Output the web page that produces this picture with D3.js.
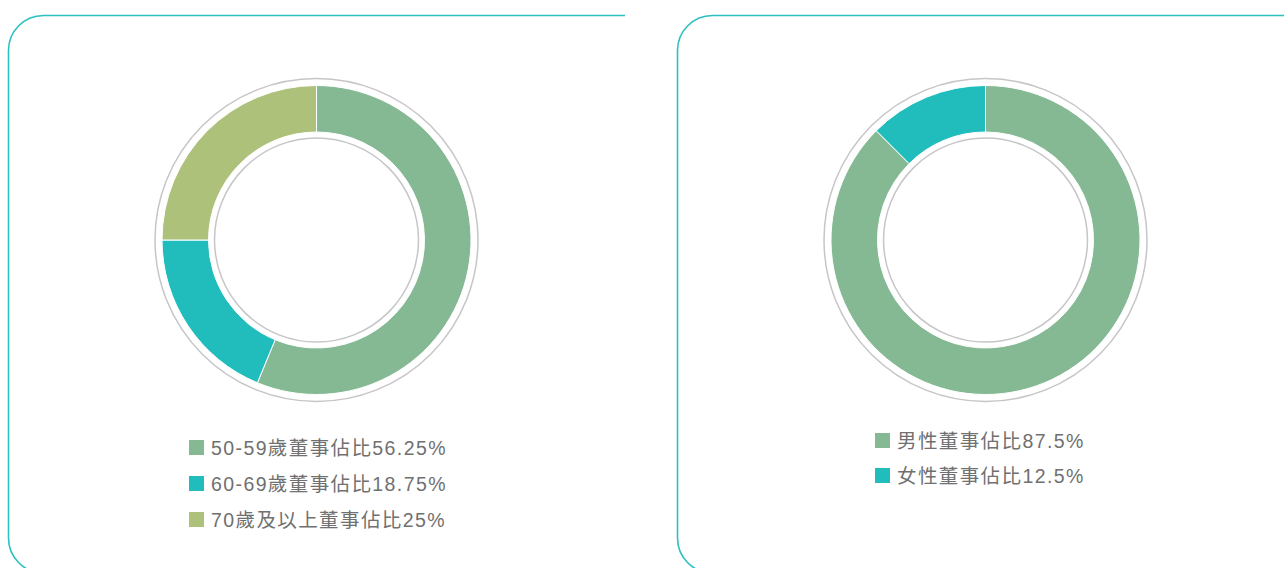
<!DOCTYPE html>
<html><head><meta charset="utf-8">
<script src="https://cdn.jsdelivr.net/npm/d3@7/dist/d3.min.js"></script>
<style>
html,body{margin:0;padding:0;background:#fff;}
svg{display:block;}
text{font-family:"Liberation Sans","Noto Sans CJK TC",sans-serif;}
</style></head><body>
<svg id="c" width="1284" height="568"></svg>
<script>
const ageCategories = ["50-59歲董事佔比56.25%", "60-69歲董事佔比18.75%", "70歲及以上董事佔比25%"];
const ageValues = [56.25, 18.75, 25];
const genderCategories = ["男性董事佔比87.5%", "女性董事佔比12.5%"];
const genderValues = [87.5, 12.5];
const ageColors = ["#84b993", "#21bdbd", "#adc17a"];
const genderColors = ["#84b993", "#21bdbd"];

const svg = d3.select("#c");
const border = "#2cc0c0";

// panel borders (left + top, rounded left corners)
function panel(x0, x1, top, bottom, r) {
  const p = d3.path();
  p.moveTo(x1, top);
  p.lineTo(x0 + r, top);
  p.arcTo(x0, top, x0, top + r, r);
  p.lineTo(x0, bottom - r);
  p.arcTo(x0, bottom, x0 + r, bottom, r);
  p.lineTo(x0 + r + 10, bottom);
  svg.append("path").attr("d", p.toString()).attr("fill", "none")
    .attr("stroke", border).attr("stroke-width", 1.6);
}
panel(8.5, 625, 15.5, 573, 35);
panel(677.5, 1290, 15.5, 573, 35);

function donut(cx, cy, values, colors, labels, legX, legY, legStep) {
  const g = svg.append("g").attr("transform", `translate(${cx},${cy})`);
  g.append("circle").attr("r", 161.5).attr("fill", "none").attr("stroke", "#c6c6c8").attr("stroke-width", 1.5);
  g.append("circle").attr("r", 102).attr("fill", "none").attr("stroke", "#c6c6c8").attr("stroke-width", 1.5);
  const pie = d3.pie().sort(null).value(d => d);
  const arc = d3.arc().innerRadius(108).outerRadius(154.5);
  g.selectAll("path.s").data(pie(values)).join("path").attr("class", "s")
    .attr("d", arc).attr("fill", (d, i) => colors[i])
    .attr("stroke", "#fff").attr("stroke-width", 1);
  const lg = svg.append("g");
  labels.forEach((t, i) => {
    const y = legY + i * legStep;
    lg.append("rect").attr("x", legX).attr("y", y - 8).attr("width", 15).attr("height", 15).attr("fill", colors[i]);
    lg.append("text").attr("x", legX + 22).attr("y", y).attr("dy", "0.36em")
      .attr("font-size", 19.5).attr("letter-spacing", 1.4).attr("fill", "#707070").text(t);
  });
}
donut(316.5, 240, ageValues, ageColors, ageCategories, 189, 448, 36);
donut(985.5, 240, genderValues, genderColors, genderCategories, 875, 441, 35);
</script></body></html>
